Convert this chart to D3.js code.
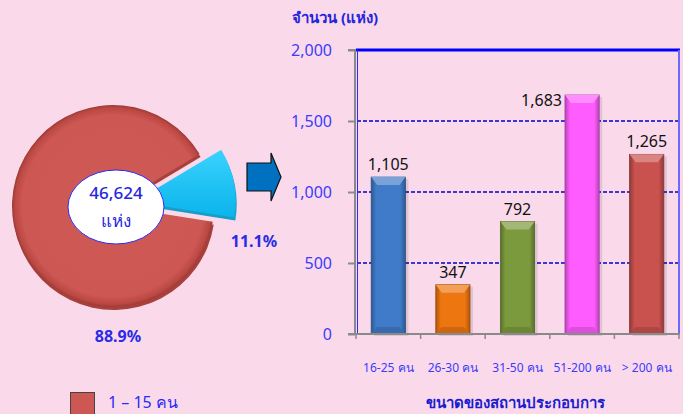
<!DOCTYPE html>
<html>
<head>
<meta charset="utf-8">
<script src="https://cdn.jsdelivr.net/npm/d3@7"></script>
<style>
  body { margin: 0; background: #fadaea; }
  svg { display: block; font-family: Tahoma, "Noto Sans", "DejaVu Sans", sans-serif; }
</style>
</head>
<body>
<div id="chart"></div>
<script>
// data
const sizeGroups = ['16-25 คน', '26-30 คน', '31-50 คน', '51-200 คน', '> 200 คน'];
const counts = [1105, 347, 792, 1683, 1265];
const barColors = ['#3f7bc9', '#ee7611', '#7b9a3d', '#ff5cff', '#c9514e'];
const yTicks = [0, 500, 1000, 1500, 2000];

const pieLabels = ['1 – 15 คน', '16 คนขึ้นไป'];
const pieShares = [88.9, 11.1];
const pieColors = ['#cd5752', '#16bff2'];
const totalText = '46,624';

const width = 683;
const height = 414;

const svg = d3.select('#chart')
  .append('svg')
  .attr('width', width)
  .attr('height', height);

const defs = svg.append('defs');

// bar gradients: dark edges, lighter middle
barColors.forEach((c, i) => {
  const g = defs.append('linearGradient').attr('id', 'bar' + i)
    .attr('x1', 0).attr('x2', 1).attr('y1', 0).attr('y2', 0);
  g.append('stop').attr('offset', '0%').attr('stop-color', d3.color(c).darker(0.9));
  g.append('stop').attr('offset', '15%').attr('stop-color', c);
  g.append('stop').attr('offset', '85%').attr('stop-color', c);
  g.append('stop').attr('offset', '100%').attr('stop-color', d3.color(c).darker(0.9));
});

const redGrad = defs.append('radialGradient').attr('id', 'redRing')
  .attr('gradientUnits', 'userSpaceOnUse').attr('cx', 0).attr('cy', 0).attr('r', 101);
redGrad.append('stop').attr('offset', '0%').attr('stop-color', '#cf5954');
redGrad.append('stop').attr('offset', '90%').attr('stop-color', '#cd5752');
redGrad.append('stop').attr('offset', '97%').attr('stop-color', '#bb4843');
redGrad.append('stop').attr('offset', '100%').attr('stop-color', '#9c3a36');

const blueGrad = defs.append('linearGradient').attr('id', 'blueSlice')
  .attr('x1', 0).attr('x2', 0).attr('y1', 0).attr('y2', 1);
blueGrad.append('stop').attr('offset', '0%').attr('stop-color', '#3ad2ff');
blueGrad.append('stop').attr('offset', '100%').attr('stop-color', '#0ab4ea');

// ---------- bar chart ----------
const y = d3.scaleLinear().domain([0, 2000]).range([334, 50]);
const x = d3.scaleBand().domain(sizeGroups).range([356, 679])
  .paddingInner(0.47).paddingOuter(0.235);

// grid lines
svg.append('g')
  .selectAll('line')
  .data(yTicks.filter(t => t > 0 && t < 2000))
  .join('line')
  .attr('x1', 357).attr('x2', 679)
  .attr('y1', d => y(d)).attr('y2', d => y(d))
  .attr('stroke', '#0000cc')
  .attr('stroke-width', 1.3)
  .attr('stroke-dasharray', '4,2');

// plot frame (top and right)
svg.append('line').attr('x1', 356).attr('x2', 680).attr('y1', y(2000)).attr('y2', y(2000))
  .attr('stroke', '#0000ff').attr('stroke-width', 3);
svg.append('line').attr('x1', 679).attr('x2', 679).attr('y1', y(2000)).attr('y2', y(0))
  .attr('stroke', '#6a6aff').attr('stroke-width', 2);
svg.append('line').attr('x1', 357.5).attr('x2', 357.5).attr('y1', y(2000)).attr('y2', y(0))
  .attr('stroke', '#2a2aff').attr('stroke-width', 1);

// bars
const bars = svg.append('g')
  .selectAll('g')
  .data(sizeGroups.map((g, i) => ({ g, v: counts[i], i })))
  .join('g');

bars.append('rect')
  .attr('x', d => x(d.g) + 3)
  .attr('y', d => y(d.v) + 2)
  .attr('width', x.bandwidth())
  .attr('height', d => y(0) - y(d.v))
  .attr('fill', '#000')
  .attr('opacity', 0.1);

bars.append('rect')
  .attr('x', d => x(d.g))
  .attr('y', d => y(d.v))
  .attr('width', x.bandwidth())
  .attr('height', d => y(0) - y(d.v))
  .attr('fill', d => 'url(#bar' + d.i + ')')
  .attr('stroke', d => d3.color(barColors[d.i]).darker(1.2))
  .attr('stroke-width', 0.8);

// bevel cap on top of each bar
bars.append('path')
  .attr('d', d => {
    const x0 = x(d.g), x1 = x0 + x.bandwidth(), t = y(d.v);
    return `M${x0},${t}L${x1},${t}L${x1 - 6},${t + 8}L${x0 + 6},${t + 8}Z`;
  })
  .attr('fill', d => d3.interpolateRgb(barColors[d.i], '#ffffff')(0.3));

// bevel bottom
bars.append('path')
  .attr('d', d => {
    const x0 = x(d.g), x1 = x0 + x.bandwidth(), b = y(0);
    return `M${x0},${b}L${x1},${b}L${x1 - 6},${b - 7}L${x0 + 6},${b - 7}Z`;
  })
  .attr('fill', d => d3.color(barColors[d.i]).darker(0.4));

const maxIdx = counts.indexOf(d3.max(counts));
bars.append('text')
  .attr('x', d => d.i === maxIdx ? x(d.g) - 3 : x(d.g) + x.bandwidth() / 2)
  .attr('y', d => d.i === maxIdx ? y(d.v) + 11 : y(d.v) - 7)
  .attr('text-anchor', d => d.i === maxIdx ? 'end' : 'middle')
  .attr('font-size', 16)
  .attr('fill', '#111')
  .text(d => d3.format(',')(d.v));

// y axis
const yAxis = svg.append('g')
  .attr('transform', 'translate(355,0)')
  .call(d3.axisLeft(y).tickValues(yTicks).tickSize(7).tickPadding(16).tickFormat(d3.format(',')));
yAxis.select('.domain').attr('stroke', '#8a8a8a').attr('stroke-width', 2).attr('d', `M-7,${y(2000)}H0V${y(0)}`);
yAxis.selectAll('.tick line').attr('stroke', '#8a8a8a').attr('stroke-width', 2);
yAxis.selectAll('.tick text').attr('fill', '#3c3cff').attr('font-size', 16)
  .attr('font-family', 'Tahoma, "Noto Sans", "DejaVu Sans", sans-serif');

// x axis
svg.append('line').attr('x1', 348).attr('x2', 680).attr('y1', y(0)).attr('y2', y(0))
  .attr('stroke', '#8a8a8a').attr('stroke-width', 2);
svg.append('g')
  .selectAll('line')
  .data(d3.range(sizeGroups.length + 1))
  .join('line')
  .attr('x1', i => x.range()[0] + i * x.step())
  .attr('x2', i => x.range()[0] + i * x.step())
  .attr('y1', y(0)).attr('y2', y(0) + 5)
  .attr('stroke', '#8a8a8a').attr('stroke-width', 1.5);

svg.append('g')
  .selectAll('text')
  .data(sizeGroups)
  .join('text')
  .attr('x', d => x(d) + x.bandwidth() / 2)
  .attr('y', 372)
  .attr('text-anchor', 'middle')
  .attr('font-size', 12)
  .attr('fill', '#3a3aff')
  .text(d => d);

svg.append('text')
  .attr('x', 515).attr('y', 408)
  .attr('text-anchor', 'middle')
  .attr('font-size', 15).attr('font-weight', 'bold')
  .attr('fill', '#1c1cd0')
  .text('ขนาดของสถานประกอบการ');

svg.append('text')
  .attr('x', 292).attr('y', 23)
  .attr('font-size', 15).attr('font-weight', 'bold')
  .attr('fill', '#2424dd')
  .text('จำนวน (แห่ง)');

// ---------- arrow ----------
svg.append('path')
  .attr('d', 'M247,163H271V153L281,177L271,201V191H247Z')
  .attr('fill', '#0070c0')
  .attr('stroke', '#111')
  .attr('stroke-width', 1.2);

// ---------- pie ----------
const cx = 113, cy = 206, r = 101;
const deg = Math.PI / 180;
const pie = d3.pie().sort(null).startAngle(99 * deg).endAngle(459 * deg);
const arcs = pie(pieShares);
const arc = d3.arc().innerRadius(0).outerRadius(r);

const pieG = svg.append('g').attr('transform', `translate(${cx},${cy})`);

arcs.forEach((a, i) => {
  const mid = (a.startAngle + a.endAngle) / 2;
  const off = i === 1 ? 22 : 0;
  const dx = Math.sin(mid) * off, dy = -Math.cos(mid) * off;
  const g = pieG.append('g').attr('transform', `translate(${dx},${dy})`);
  // extrusion shadow
  g.append('path').attr('d', arc(a))
    .attr('transform', 'translate(1,3)')
    .attr('fill', i === 1 ? '#1a9cc8' : '#a8403c');
  g.append('path').attr('d', arc(a))
    .attr('fill', i === 1 ? 'url(#blueSlice)' : 'url(#redRing)');
});

pieG.append('ellipse')
  .attr('cx', 3).attr('cy', 1)
  .attr('rx', 48).attr('ry', 37)
  .attr('fill', '#fff')
  .attr('stroke', '#2a2aff')
  .attr('stroke-width', 1);

svg.append('text').attr('x', 116).attr('y', 199).attr('text-anchor', 'middle')
  .attr('font-size', 17).attr('font-weight', 500).attr('fill', '#2626e0').text(totalText);
svg.append('text').attr('x', 116).attr('y', 227).attr('text-anchor', 'middle')
  .attr('font-size', 17).attr('font-weight', 500).attr('fill', '#2626e0').text('แห่ง');

svg.append('text').attr('x', 254).attr('y', 247).attr('text-anchor', 'middle')
  .attr('font-size', 16).attr('font-weight', 'bold').attr('fill', '#2a2ae8')
  .text(pieShares[1].toFixed(1) + '%');
svg.append('text').attr('x', 118).attr('y', 342).attr('text-anchor', 'middle')
  .attr('font-size', 16).attr('font-weight', 'bold').attr('fill', '#2a2ae8')
  .text(pieShares[0].toFixed(1) + '%');

// legend (first entry visible)
svg.append('rect').attr('x', 70.5).attr('y', 392.5).attr('width', 24).attr('height', 30)
  .attr('fill', pieColors[0]).attr('stroke', '#444').attr('stroke-width', 1);
svg.append('text').attr('x', 108).attr('y', 408)
  .attr('font-size', 16).attr('fill', '#2a2aff').text(pieLabels[0]);
</script>
</body>
</html>
